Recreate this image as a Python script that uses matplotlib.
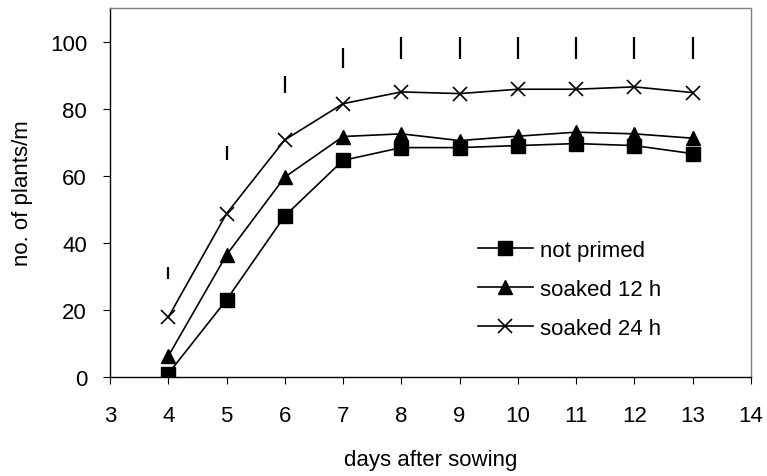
import numpy as np
import matplotlib.pyplot as plt

plt.rcParams['font.family'] = ['Liberation Sans', 'DejaVu Sans']

# ---- data ----
days = [4, 5, 6, 7, 8, 9, 10, 11, 12, 13]
not_primed = [1, 23, 48, 64.6, 68.4, 68.4, 69, 69.6, 69, 66.6]
soaked_12h = [6.2, 36.4, 59.6, 71.7, 72.5, 70.5, 71.8, 73, 72.5, 71.2]
soaked_24h = [17.8, 48.7, 70.7, 81.5, 85, 84.5, 85.8, 85.8, 86.5, 84.8]

# LSD bars drawn above the curves (centre and half length)
lsd_center = [31, 66.8, 87.1, 95, 98.1, 98.1, 98.1, 98.1, 98.1, 98.1]
lsd_half = [1.75, 2.2, 2.5, 3, 3.25, 3.25, 3.25, 3.25, 3.25, 3.25]

FS = 16

fig = plt.figure(figsize=(7.67, 4.77), dpi=100)
ax = fig.add_axes([0.1434, 0.2075, 0.8356, 0.7735])

ax.plot(days, not_primed, color='black', lw=1.2, marker='s', ms=9.5,
        label='not primed')
ax.plot(days, soaked_12h, color='black', lw=1.2, marker='^', ms=10,
        label='soaked 12 h')
ax.plot(days, soaked_24h, color='black', lw=1.2, marker='x', ms=10,
        mew=1.2, label='soaked 24 h')

lsd_center = np.array(lsd_center)
lsd_half = np.array(lsd_half)
ax.vlines(days, lsd_center - lsd_half, lsd_center + lsd_half,
          color='black', lw=1.6)

ax.set_xlim(3, 14)
ax.set_ylim(0, 110)
ax.set_xticks(range(3, 15))
ax.set_yticks(range(0, 101, 20))
ax.tick_params(axis='both', direction='out', length=5, width=0.8,
               labelsize=FS, colors='black')
ax.tick_params(axis='y', pad=11.5)
ax.tick_params(axis='x', pad=15)

for side in ('top', 'right'):
    ax.spines[side].set_color('#808080')
    ax.spines[side].set_linewidth(1.0)
for side in ('left', 'bottom'):
    ax.spines[side].set_color('black')
    ax.spines[side].set_linewidth(1.0)

ax.set_xlabel('days after sowing', fontsize=FS, labelpad=17)
ax.set_ylabel('no. of plants/m', fontsize=FS, labelpad=12)

ax.legend(loc='center left', bbox_to_anchor=(0.574, 0.2385), frameon=False,
          fontsize=FS, handlelength=2.48, handletextpad=0.3,
          labelspacing=0.81, borderpad=0, borderaxespad=0)

fig.savefig('out.png', dpi=100)
